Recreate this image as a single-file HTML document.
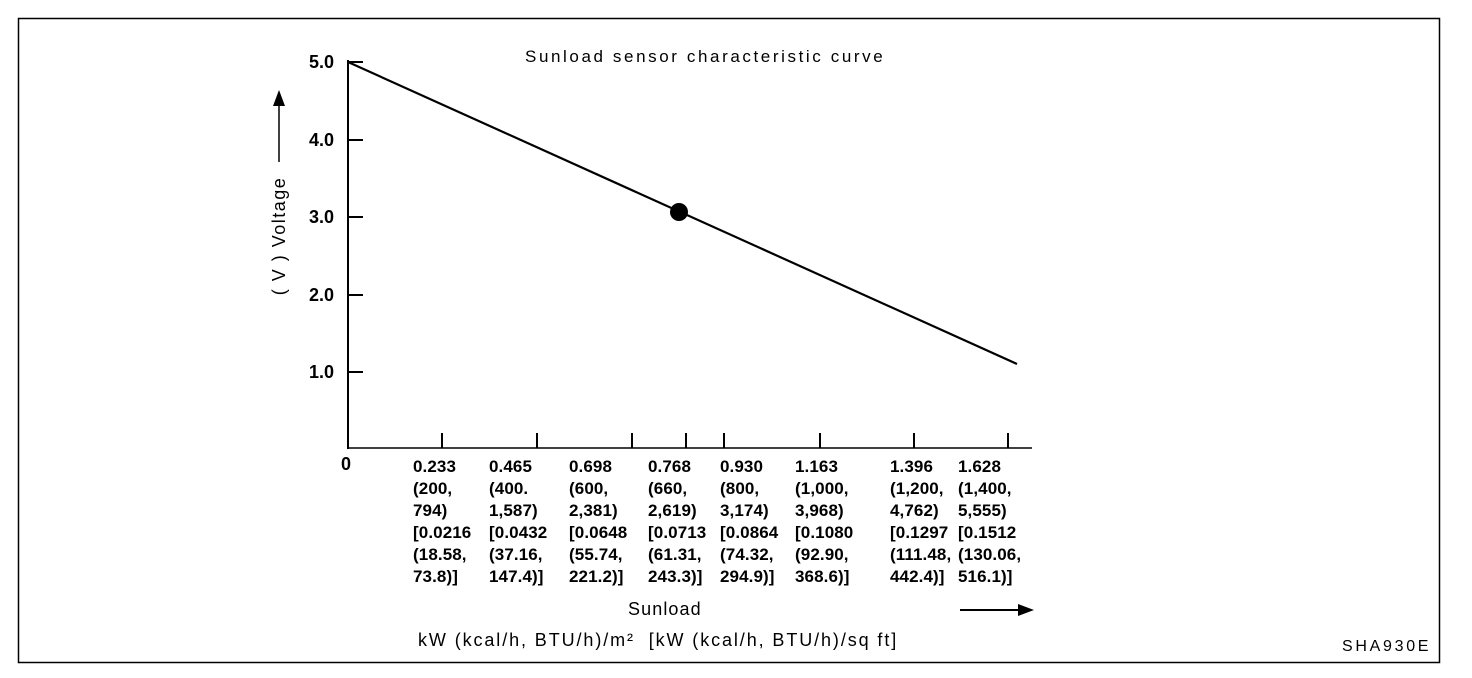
<!DOCTYPE html>
<html><head><meta charset="utf-8"><style>
html,body{margin:0;padding:0;background:#fff;}
body{width:1472px;height:678px;position:relative;overflow:hidden;font-family:"Liberation Sans",sans-serif;color:#000;}
.b{position:absolute;font-weight:bold;font-size:18px;}
.col{position:absolute;top:456px;font-weight:bold;font-size:17px;letter-spacing:0.1px;line-height:22px;white-space:pre;}
</style></head><body>
<svg width="1472" height="678" style="position:absolute;left:0;top:0">
<rect x="18.5" y="18.5" width="1421" height="644" fill="none" stroke="#000" stroke-width="1.5"/>
<line x1="348" y1="60" x2="348" y2="449" stroke="#000" stroke-width="2"/>
<line x1="347" y1="448" x2="1032" y2="448" stroke="#000" stroke-width="1.5"/>
<g stroke="#000" stroke-width="2">
<line x1="348" y1="62" x2="363" y2="62"/><line x1="348" y1="140" x2="363" y2="140"/>
<line x1="348" y1="217" x2="363" y2="217"/><line x1="348" y1="295" x2="363" y2="295"/>
<line x1="348" y1="372" x2="363" y2="372"/>
<line x1="442" y1="433" x2="442" y2="448"/><line x1="537" y1="433" x2="537" y2="448"/>
<line x1="632" y1="433" x2="632" y2="448"/><line x1="686" y1="433" x2="686" y2="448"/>
<line x1="724" y1="433" x2="724" y2="448"/><line x1="820" y1="433" x2="820" y2="448"/>
<line x1="914" y1="433" x2="914" y2="448"/><line x1="1008" y1="433" x2="1008" y2="448"/>
</g>
<line x1="348" y1="62" x2="1017" y2="364" stroke="#000" stroke-width="2.2"/>
<circle cx="679" cy="212" r="9" fill="#000"/>
<line x1="279" y1="105" x2="279" y2="162" stroke="#000" stroke-width="1.5"/>
<polygon points="279,90 273,106 285,106" fill="#000"/>
<line x1="960" y1="610" x2="1020" y2="610" stroke="#000" stroke-width="2"/>
<polygon points="1034,610 1018,604 1018,616" fill="#000"/>
<text x="0" y="0" transform="translate(285,236) rotate(-90)" text-anchor="middle" font-family="Liberation Sans" font-size="18" letter-spacing="1.5">( V )  Voltage</text>
</svg>
<div style="position:absolute;left:525px;top:47px;font-size:17px;letter-spacing:2.6px">Sunload sensor characteristic curve</div>
<div class="b" style="left:309px;top:52px">5.0</div>
<div class="b" style="left:309px;top:130px">4.0</div>
<div class="b" style="left:309px;top:207px">3.0</div>
<div class="b" style="left:309px;top:285px">2.0</div>
<div class="b" style="left:309px;top:362px">1.0</div>
<div class="b" style="left:341px;top:454px">0</div>
<div class="col" style="left:413px">0.233
(200,
794)
[0.0216
(18.58,
73.8)]</div>
<div class="col" style="left:489px">0.465
(400.
1,587)
[0.0432
(37.16,
147.4)]</div>
<div class="col" style="left:569px">0.698
(600,
2,381)
[0.0648
(55.74,
221.2)]</div>
<div class="col" style="left:648px">0.768
(660,
2,619)
[0.0713
(61.31,
243.3)]</div>
<div class="col" style="left:720px">0.930
(800,
3,174)
[0.0864
(74.32,
294.9)]</div>
<div class="col" style="left:795px">1.163
(1,000,
3,968)
[0.1080
(92.90,
368.6)]</div>
<div class="col" style="left:890px">1.396
(1,200,
4,762)
[0.1297
(111.48,
442.4)]</div>
<div class="col" style="left:958px">1.628
(1,400,
5,555)
[0.1512
(130.06,
516.1)]</div>
<div style="position:absolute;left:628px;top:599px;font-size:18px;letter-spacing:1.1px">Sunload</div>
<div style="position:absolute;left:418px;top:630px;font-size:18px;letter-spacing:1.9px">kW (kcal/h, BTU/h)/m² &nbsp;[kW (kcal/h, BTU/h)/sq ft]</div>
<div style="position:absolute;left:1342px;top:638px;font-size:16px;letter-spacing:2.7px">SHA930E</div>
</body></html>
